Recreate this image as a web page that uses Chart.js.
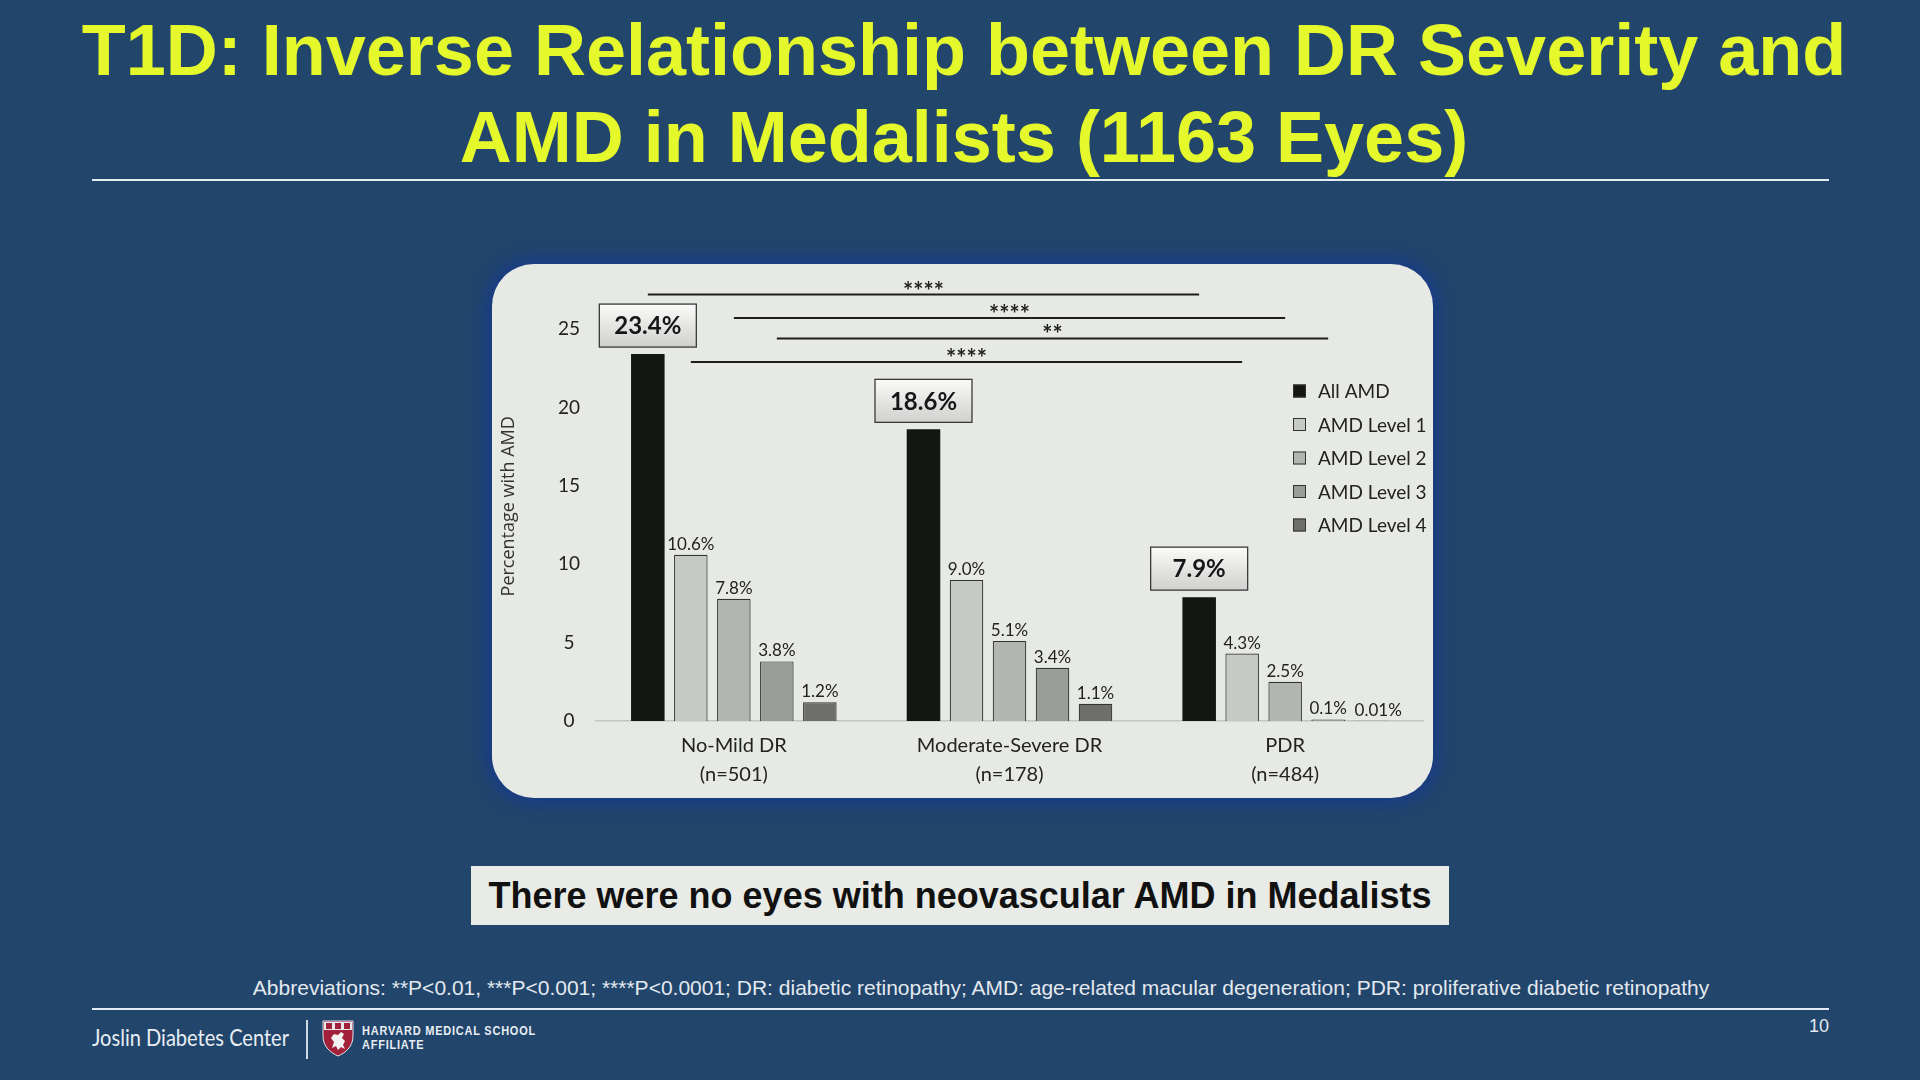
<!DOCTYPE html>
<html><head><meta charset="utf-8">
<script src="https://cdn.jsdelivr.net/npm/chart.js@4.4.1/dist/chart.umd.min.js"></script>
<style>
html,body{margin:0;padding:0;}
body{width:1920px;height:1080px;background:#22456c;position:relative;overflow:hidden;font-family:"Liberation Sans",Arial,sans-serif;}
.t{position:absolute;left:0;width:1928px;text-align:center;color:#e4f82b;font-weight:bold;font-size:72px;line-height:87px;white-space:nowrap;}
.rule{position:absolute;left:92px;width:1737px;height:2px;background:#e4ebf3;}
#panel{position:absolute;left:492px;top:264px;width:941px;height:534px;border-radius:42px;background:#e6e9e4;box-shadow:0 0 16px 6px rgba(22,58,140,0.85);}
#chartWrap{position:absolute;left:492px;top:264px;width:941px;height:534px;}
#callout{position:absolute;left:471px;top:866px;width:978px;height:59px;background:#e8ebe6;color:#111;font-weight:bold;font-size:36px;line-height:59px;text-align:center;white-space:nowrap;}
#abbr{position:absolute;left:0;top:976px;width:1962px;text-align:center;color:#e3e9ef;font-size:21px;line-height:24px;white-space:nowrap;}
#page{position:absolute;left:1809px;top:1015px;color:#e3e9ef;font-size:18px;line-height:22px;}
#joslin{position:absolute;left:92px;top:1022px;color:#e8eef4;font-family:Lato,sans-serif;font-size:23px;line-height:30px;white-space:nowrap;transform-origin:0 50%;}
#div{position:absolute;left:306px;top:1020px;width:1.5px;height:39px;background:#d0d9e3;}
#shield{position:absolute;left:322px;top:1020px;}
.hms{position:absolute;left:362px;color:#e8eef4;font-weight:bold;font-size:12.5px;letter-spacing:0.9px;line-height:14px;white-space:nowrap;transform-origin:0 50%;}
</style></head>
<body>
<div class="t" style="top:7px">T1D: Inverse Relationship between DR Severity and</div>
<div class="t" style="top:94px">AMD in Medalists (1163 Eyes)</div>
<div class="rule" style="top:179px"></div>
<div id="panel"></div>
<div id="chartWrap"><canvas id="c" width="941" height="534"></canvas></div>
<div id="callout">There were no eyes with neovascular AMD in Medalists</div>
<div id="abbr">Abbreviations: **P&lt;0.01, ***P&lt;0.001; ****P&lt;0.0001; DR: diabetic retinopathy; AMD: age-related macular degeneration; PDR: proliferative diabetic retinopathy</div>
<div class="rule" style="top:1008px"></div>
<div id="page">10</div>
<div id="joslin">Joslin Diabetes Center</div>
<div id="div"></div>
<svg id="shield" width="32" height="37" viewBox="0 0 32 37">
<path d="M1 1 H31 V16 C31 27 23 33 16 36 C9 33 1 27 1 16 Z" fill="#a3203a" stroke="#dfe5ec" stroke-width="1"/>
<rect x="2" y="2" width="28" height="8" fill="#e9e9e9"/>
<rect x="4" y="3" width="6" height="6" fill="#a3203a"/><rect x="13" y="3" width="6" height="6" fill="#a3203a"/><rect x="22" y="3" width="6" height="6" fill="#a3203a"/>
<path d="M10 28 L12 22 L9 18 L12 14 L16 15 L19 12 L22 14 L20 18 L23 21 L21 25 L23 29 L19 27 L16 30 L14 26 Z" fill="#f2f2f2"/>
</svg>
<div class="hms" id="hms1" style="top:1024px">HARVARD MEDICAL SCHOOL</div>
<div class="hms" id="hms2" style="top:1038px">AFFILIATE</div>
<script>
// ---- data ----
const categories = ['No-Mild DR', 'Moderate-Severe DR', 'PDR'];
const categoryCounts = ['(n=501)', '(n=178)', '(n=484)'];
const seriesNames = ['All AMD', 'AMD Level 1', 'AMD Level 2', 'AMD Level 3', 'AMD Level 4'];
const allAMD = [23.4, 18.6, 7.9];
const amdLevel1 = [10.6, 9.0, 4.3];
const amdLevel2 = [7.8, 5.1, 2.5];
const amdLevel3 = [3.8, 3.4, 0.1];
const amdLevel4 = [1.2, 1.1, 0.01];
const yTickValues = [0, 5, 10, 15, 20, 25];
const sigLevels = [27.2, 25.7, 24.4, 22.9];
const sigMarks = ['****', '****', '**', '****'];
const sigSeries = [0, 2, 3, 1];

// ---- styles ----
const barColors = ['#141711', '#c6c9c4', '#b2b5b0', '#9b9d99', '#6e6f6c'];
const barBorders = ['#141711', '#333333', '#333333', '#333333', '#333333'];
const fmt = v => (v < 0.1 ? v.toFixed(2) : v.toFixed(1)) + '%';

const seriesValues = [allAMD, amdLevel1, amdLevel2, amdLevel3, amdLevel4];
const datasets = seriesValues.map((vals, i) => ({
  label: seriesNames[i],
  data: vals,
  backgroundColor: barColors[i],
  borderColor: barBorders[i],
  borderWidth: i === 0 ? 0 : 1.2,
  categoryPercentage: 0.78,
  barPercentage: 0.78
}));

const annot = {
  id: 'annot',
  afterDatasetsDraw(chart) {
    const ctx = chart.ctx, ys = chart.scales.y;
    ctx.save();
    chart.data.datasets.forEach((ds, i) => {
      const meta = chart.getDatasetMeta(i);
      meta.data.forEach((bar, j) => {
        const txt = fmt(ds.data[j]);
        if (i === 0) {
          const w = 97, h = 43, x0 = bar.x - w / 2, y1 = bar.y - 7, y0 = y1 - h;
          const g = ctx.createLinearGradient(0, y0, 0, y1);
          g.addColorStop(0, '#fbfbfa'); g.addColorStop(1, '#cfd1ce');
          ctx.fillStyle = g; ctx.fillRect(x0, y0, w, h);
          ctx.strokeStyle = '#3a3a3a'; ctx.lineWidth = 1.3; ctx.strokeRect(x0, y0, w, h);
          ctx.fillStyle = '#161616'; ctx.font = 'bold 24px Lato'; ctx.textAlign = 'center'; ctx.textBaseline = 'middle';
          ctx.fillText(txt, bar.x, y0 + h / 2 + 1);
        } else {
          const small = ds.data[j] < 0.1;
          ctx.fillStyle = '#222'; ctx.font = '17px Lato'; ctx.textAlign = 'center'; ctx.textBaseline = 'alphabetic';
          ctx.fillText(txt, bar.x + (small ? 7 : 0), bar.y - 5);
        }
      });
    });
    sigLevels.forEach((lv, k) => {
      const m = chart.getDatasetMeta(sigSeries[k]);
      const x1 = m.data[0].x, x2 = m.data[2].x, yy = ys.getPixelForValue(lv);
      ctx.strokeStyle = '#1e1e1e'; ctx.lineWidth = 2;
      ctx.beginPath(); ctx.moveTo(x1, yy); ctx.lineTo(x2, yy); ctx.stroke();
      ctx.fillStyle = '#1e1e1e'; ctx.font = 'bold 24px Lato'; ctx.textAlign = 'center'; ctx.textBaseline = 'alphabetic';
      ctx.fillText(sigMarks[k], (x1 + x2) / 2, yy + 5);
    });
    // legend
    const lx = 801, ly = 127, step = 33.5, sz = 13;
    chart.data.datasets.forEach((ds, i) => {
      const cy = ly + i * step;
      ctx.fillStyle = ds.backgroundColor; ctx.fillRect(lx, cy - sz / 2, sz, sz);
      ctx.strokeStyle = '#333'; ctx.lineWidth = 1; ctx.strokeRect(lx + 0.5, cy - sz / 2 + 0.5, sz - 1, sz - 1);
      ctx.fillStyle = '#222'; ctx.font = '19px Lato'; ctx.textAlign = 'left'; ctx.textBaseline = 'middle';
      ctx.fillText(ds.label, lx + 25, cy + 1);
    });
    ctx.restore();
  }
};

new Chart(document.getElementById('c'), {
  type: 'bar',
  data: { labels: categories.map((c, i) => [c, categoryCounts[i]]), datasets },
  options: {
    responsive: false, animation: false, devicePixelRatio: 1,
    layout: { padding: { top: 65, right: 10, left: 0, bottom: 0 } },
    plugins: { legend: { display: false }, tooltip: { enabled: false } },
    scales: {
      x: {
        grid: { display: false, drawTicks: false },
        border: { display: true, color: '#c3c6c1', width: 1.5 },
        ticks: { color: '#222', font: { family: 'Lato', size: 20, lineHeight: 1.45 }, padding: 10, maxRotation: 0 },
        afterFit: s => { s.height = 77; }
      },
      y: {
        min: 0, max: 25,
        afterBuildTicks: s => { s.ticks = yTickValues.map(v => ({ value: v })); },
        grid: { display: false, drawTicks: false },
        border: { display: false },
        ticks: { color: '#222', font: { family: 'Lato', size: 19 }, padding: 16, crossAlign: 'center' },
        title: { display: true, text: '        Percentage with AMD', color: '#333', font: { family: 'Open Sans', size: 18 }, padding: { top: 6, bottom: 0 } },
        afterFit: s => { s.width = 104; }
      }
    }
  },
  plugins: [annot]
});

// fit footer text widths
function fitX(el, target) { const w = el.getBoundingClientRect().width; el.style.transform = 'scaleX(' + (target / w) + ')'; }
const j = document.getElementById('joslin'); j.style.display = 'inline-block'; fitX(j, 197);
['hms1'].forEach(id => { const e = document.getElementById(id); e.style.display = 'inline-block'; fitX(e, 174); });
const h2 = document.getElementById('hms2'); h2.style.display = 'inline-block'; h2.style.transform = document.getElementById('hms1').style.transform;
</script>
</body></html>
